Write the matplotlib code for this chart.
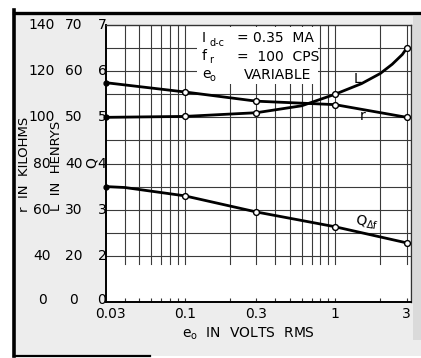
import matplotlib
matplotlib.use("Agg")
import matplotlib.pyplot as plt
from matplotlib import font_manager
from matplotlib.patches import Rectangle
from matplotlib.lines import Line2D

W, H, DPI = 421, 358, 100

# ---- data -------------------------------------------------------------
volts_L = [0.03, 0.1, 0.3, 0.6, 1.0, 1.5, 2.0, 2.4, 2.8, 3.0]
henrys_L = [50.0, 50.2, 51.0, 52.5, 55.0, 57.3, 59.5, 61.5, 63.6, 65.0]

volts_r = [0.03, 0.1, 0.3, 1.0, 3.0]
kilohms_r = [115.0, 111.0, 107.0, 105.5, 100.0]

volts_q = [0.03, 0.04, 0.1, 0.3, 1.0, 3.0]
q_delta_f = [3.5, 3.48, 3.3, 2.95, 2.63, 2.28]

measured_volts = [0.1, 0.3, 1.0, 3.0]

# y rows: the zero row sits one grid unit below 2 (broken scale)
row_pos = [1, 2, 3, 4, 5, 6, 7]
q_labels = ["0", "2", "3", "4", "5", "6", "7"]
l_labels = ["0", "20", "30", "40", "50", "60", "70"]
r_labels = ["0", "40", "60", "80", "100", "120", "140"]

x_ticks = [0.03, 0.1, 0.3, 1, 3]
x_tick_labels = ["0.03", "0.1", "0.3", "1", "3"]
x_grid = [0.04, 0.05, 0.06, 0.07, 0.08, 0.09, 0.1,
          0.2, 0.3, 0.4, 0.5, 0.6, 0.7, 0.8, 0.9, 1.0, 2.0, 3.0]

# scale factors that put L and r on the Q grid
L_PER_Q = 10.0
R_PER_Q = 20.0

# ---- fonts ------------------------------------------------------------
names = {f.name for f in font_manager.fontManager.ttflist}
NARROW = "Liberation Sans Narrow" if "Liberation Sans Narrow" in names else "DejaVu Sans"
WIDE = "DejaVu Sans"
plt.rcParams["mathtext.default"] = "regular"
plt.rcParams["font.family"] = [WIDE]

fig = plt.figure(figsize=(W / DPI, H / DPI), dpi=DPI, facecolor="white")


def fx(px):
    return px / W


def fy(py):
    return 1 - py / H


# page background with the dark edges of the sheet
fig.add_artist(Rectangle((fx(14), fy(356)), fx(421) - fx(14), fy(13) - fy(356),
                         transform=fig.transFigure, facecolor="#ededed",
                         edgecolor="none", zorder=0))
fig.add_artist(Rectangle((fx(413), fy(340)), fx(421) - fx(413), fy(16) - fy(340),
                         transform=fig.transFigure, facecolor="#dadada",
                         edgecolor="none", zorder=0))
fig.add_artist(Line2D([fx(14), fx(14)], [fy(10), fy(356)], transform=fig.transFigure,
                      color="black", lw=2.6, zorder=1))
fig.add_artist(Line2D([fx(14), fx(421)], [fy(13), fy(13)], transform=fig.transFigure,
                      color="black", lw=2.4, zorder=1))
fig.add_artist(Line2D([fx(14), fx(150)], [fy(355.5), fy(355.5)], transform=fig.transFigure,
                      color="black", lw=1.6, zorder=1))

AX_L, AX_R, AX_T, AX_B = 106, 411, 25, 302
ax = fig.add_axes([fx(AX_L), fy(AX_B), fx(AX_R) - fx(AX_L), fy(AX_T) - fy(AX_B)])
ax.set_facecolor("white")
ax.set_xscale("log")
ax.set_xlim(0.03, 3.2)
ax.set_ylim(1, 7)

# grid
grid_kw = dict(color="#3a3a3a", lw=0.8, zorder=1)
for v in x_grid:
    ax.plot([v, v], [1.82, 7], **grid_kw)
for k in range(10):
    yv = 2 + 0.5 * k
    ax.plot([0.03, 3.2], [yv, yv], **grid_kw)

for s in ["left", "bottom"]:
    ax.spines[s].set_linewidth(1.4)
    ax.spines[s].set_color("black")
for s in ["top", "right"]:
    ax.spines[s].set_linewidth(1.0)
    ax.spines[s].set_color("#333333")

ax.set_yticks([])
ax.set_xticks([])
ax.set_xticks(x_grid, minor=True)
ax.set_xticklabels([], minor=True)
ax.tick_params(axis="x", which="minor", direction="in", length=3, width=0.8, color="#333333")

# curves
line_kw = dict(color="black", lw=2.0, zorder=4, solid_capstyle="round")
mk_kw = dict(marker="o", ms=4.2, mfc="white", mec="black", mew=1.0)


def mark_idx(xs):
    return [i for i, v in enumerate(xs) if v in measured_volts]


L_pos = [v / L_PER_Q for v in henrys_L]
r_pos = [v / R_PER_Q for v in kilohms_r]

ax.plot(volts_L, L_pos, markevery=mark_idx(volts_L), **line_kw, **mk_kw)
ax.plot(volts_r, r_pos, markevery=mark_idx(volts_r), **line_kw, **mk_kw)
ax.plot(volts_q, q_delta_f, markevery=mark_idx(volts_q), **line_kw, **mk_kw)
ax.plot([volts_L[0], volts_r[0], volts_q[0]], [L_pos[0], r_pos[0], q_delta_f[0]],
        ls="none", marker="o", ms=3.5, color="black", zorder=5, clip_on=False)

# curve names
ax.text(1.40, 5.83, "L", fontsize=10, ha="center", va="center", zorder=6)
ax.text(1.52, 5.02, "r", fontsize=10, ha="center", va="center", zorder=6)
ax.text(1.62, 2.73, r"$Q_{\Delta f}$", fontsize=10, ha="center", va="center", zorder=6,
        rotation=-8)


def axx(px):
    return (px - AX_L) / (AX_R - AX_L)


def axy(py):
    return (AX_B - py) / (AX_B - AX_T)


# conditions box
ax.add_patch(Rectangle((axx(197), axy(84)), axx(318) - axx(197), axy(27) - axy(84),
                       transform=ax.transAxes, facecolor="white", edgecolor="none", zorder=3))
cond_kw = dict(transform=ax.transAxes, va="center", ha="left", zorder=6)
sub_kw = dict(transform=ax.transAxes, va="center", ha="left", zorder=6, fontsize=7)
ax.text(axx(202), axy(38), "I", fontsize=10, **cond_kw)
ax.text(axx(209), axy(43), "d-c", **sub_kw)
ax.text(axx(237), axy(38), "= 0.35  MA", fontsize=10, **cond_kw)
ax.text(axx(202), axy(56), "f", fontsize=10, **cond_kw)
ax.text(axx(209), axy(60), "r", **sub_kw)
ax.text(axx(237), axy(57), "=  100  CPS", fontsize=10, **cond_kw)
ax.text(axx(202), axy(74), "e", fontsize=10, **cond_kw)
ax.text(axx(209.5), axy(78), "o", **sub_kw)
ax.text(axx(244), axy(75), "VARIABLE", fontsize=10, **cond_kw)

# three columns of row labels
ytr = ax.get_yaxis_transform()
for p, q, l, r in zip(row_pos, q_labels, l_labels, r_labels):
    yp = p + 0.05 if p == 1 else p
    ax.text(axx(102), yp, q, transform=ytr, fontsize=10, family=NARROW,
            ha="center", va="center", clip_on=False)
    ax.text(axx(74), yp, l, transform=ytr, fontsize=10, family=NARROW,
            ha="center", va="center", clip_on=False)
    ax.text(axx(42), yp, r, transform=ytr, fontsize=10, family=NARROW,
            ha="center", va="center", clip_on=False)

# x tick labels
xtr = ax.get_xaxis_transform()
for v, s in zip(x_ticks, x_tick_labels):
    ax.text(v * (1.07 if v == 0.03 else 1.0), axy(314), s, transform=xtr, fontsize=10,
            family=NARROW, ha="center", va="center", clip_on=False)

# axis titles
fig.text(fx(248), fy(334), r"$e_o$  IN  VOLTS  RMS", fontsize=10, ha="center", va="center")
fig.text(fx(25), fy(164), "r  IN  KILOHMS", fontsize=9.5, rotation=90, ha="center", va="center")
fig.text(fx(57), fy(166), "L  IN  HENRYS", fontsize=9.5, rotation=90, ha="center", va="center")
fig.text(fx(92), fy(163), "Q", fontsize=10, rotation=90, ha="center", va="center")

fig.savefig("out.png", dpi=DPI, facecolor=fig.get_facecolor())
